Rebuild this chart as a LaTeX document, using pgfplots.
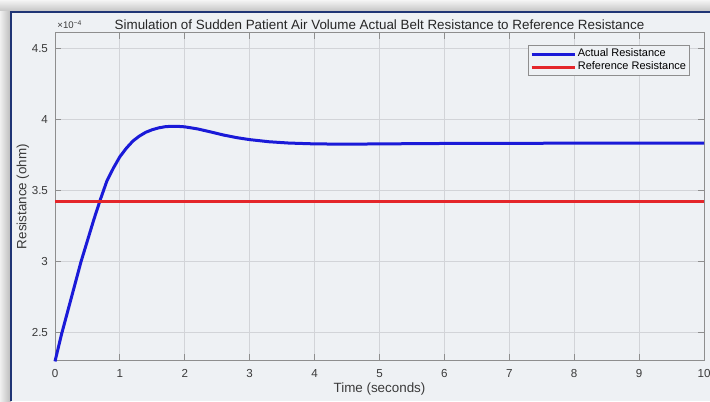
\documentclass[border=0pt]{standalone}
\usepackage{fontspec}
\setmainfont{Liberation Sans}
\usepackage{pgfplots}
\pgfplotsset{compat=1.18}
\definecolor{panelbg}{HTML}{EEF1F4}
\definecolor{framebl}{HTML}{1F3575}
\definecolor{gridc}{HTML}{D2D4D8}
\definecolor{axc}{HTML}{8E8E8E}
\definecolor{tickc}{HTML}{3A3A3A}
\definecolor{actblue}{HTML}{1A1AD8}
\definecolor{refred}{HTML}{E4262A}

\begin{document}
\begin{tikzpicture}[x=1pt,y=1pt]
  % window frame and panel
  \fill[gray!35] (0,0) rectangle (355,200.5);
  \shade[left color=gray!12, right color=gray!55] (0,0) rectangle (5.5,195);
  \shade[top color=gray!8, bottom color=gray!45] (0,195) rectangle (355,200.5);
  \fill[panelbg] (5.5,0) rectangle (355,194.5);
  \draw[framebl, line width=1pt] (5.5,0) -- (5.5,194.5) -- (355,194.5);

  \begin{axis}[
    at={(27.5pt,20.5pt)}, anchor=south west,
    scale only axis,
    width=324.5pt, height=163.5pt,
    xmin=0, xmax=10, ymin=2.31, ymax=4.61,
    clip=false,
    xtick={0,1,...,10},
    ytick={2.5,3,3.5,4,4.5},
    grid=major,
    grid style={gridc, line width=0.5pt},
    axis line style={axc, line width=0.5pt},
    tick style={axc, line width=0.5pt},
    tick align=inside,
    major tick length=3pt,
    axis background/.style={fill=panelbg},
    /pgf/number format/assume math mode=true,
    ticklabel style={font=\fontsize{5.8}{7}\selectfont, text=tickc},
    xticklabel style={yshift=-1pt},
    title={Simulation of Sudden Patient Air Volume Actual Belt Resistance to Reference Resistance},
    title style={at={(axis description cs:0.5,1)}, yshift=-2pt, anchor=center,
      font=\fontsize{6.7}{8}\selectfont, text=black!85},
    xlabel={Time (seconds)},
    xlabel style={at={(axis description cs:0.5,-0.0887)}, anchor=center,
      font=\fontsize{6.7}{8}\selectfont, text=tickc},
    ylabel={Resistance (ohm)},
    ylabel style={at={(axis description cs:-0.0493,0.5)}, anchor=center,
      font=\fontsize{6.7}{8}\selectfont, text=tickc},
    legend style={at={(0.978,0.963)}, anchor=north east, draw=axc,
      fill=panelbg, font=\fontsize{5.5}{6.5}\selectfont, inner sep=0.8pt,
      nodes={inner sep=0.8pt}, row sep=-0.6pt, cells={anchor=west}, line width=0.5pt},
    legend image code/.code={\draw[#1] (0pt,0pt) -- (21.5pt,0pt);},
  ]
    \addplot[actblue, line width=1.5pt] coordinates {
      (0,2.30) (0.1,2.49) (0.2,2.66) (0.3,2.83) (0.4,3.00)
      (0.5,3.15) (0.6,3.30) (0.7,3.44) (0.8,3.57) (0.9,3.66)
      (1.0,3.74) (1.1,3.80) (1.2,3.85) (1.3,3.885) (1.4,3.912)
      (1.5,3.930) (1.6,3.943) (1.7,3.951) (1.8,3.954) (1.9,3.953)
      (2.0,3.950) (2.2,3.935) (2.4,3.914) (2.6,3.892) (2.8,3.874)
      (3.0,3.860) (3.3,3.845) (3.6,3.836) (4.0,3.830) (4.5,3.828)
      (5.0,3.830) (6.0,3.833) (7.0,3.834) (8.0,3.835) (10.0,3.835)
    };
    \addlegendentry{Actual Resistance}
    \addplot[refred, line width=1.5pt] coordinates {(0,3.423) (10,3.423)};
    \addlegendentry{Reference Resistance}
    \node[anchor=south west, inner sep=0pt, font=\fontsize{4.8}{5}\selectfont, text=tickc]
      at (rel axis cs:0,1) [xshift=1pt, yshift=2pt]
      {×10\raisebox{0.6ex}{\fontsize{3.4}{4}\selectfont −4}};
  \end{axis}
  \pgfresetboundingbox
  \path[use as bounding box] (0,0) rectangle (355,200.5);
\end{tikzpicture}
\end{document}
